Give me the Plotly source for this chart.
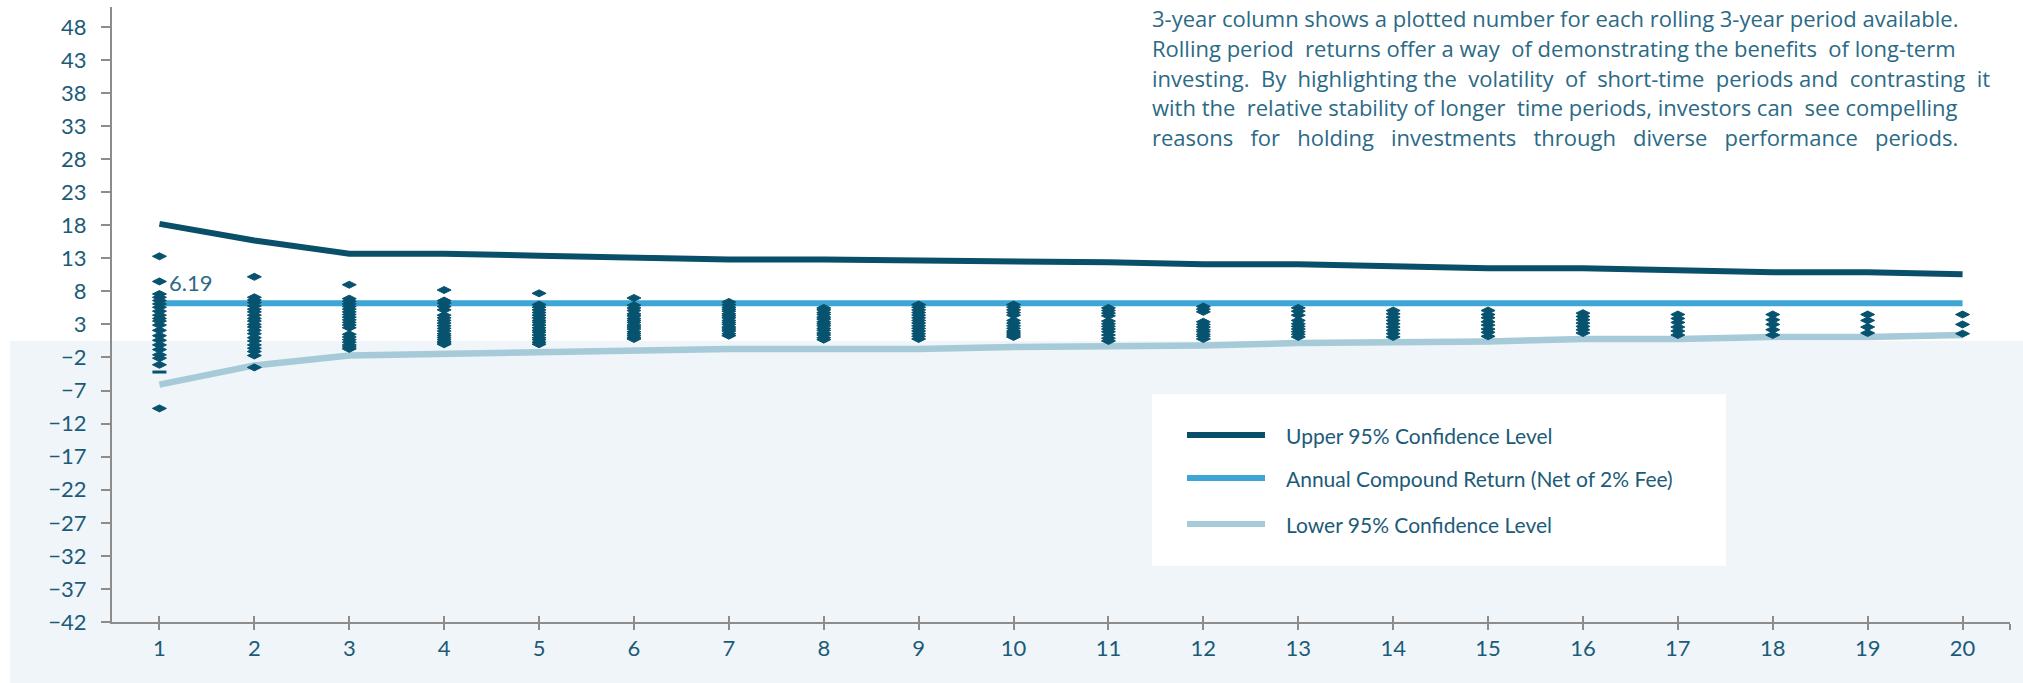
import plotly.graph_objects as go

# Holding period (years) on the x axis
periods = list(range(1, 21))
x_tick_labels = [str(p) for p in periods]

# Confidence bands and the compound return line (% per year)
upper_95 = [18.2, 15.7, 13.7, 13.7, 13.4, 13.1, 12.8, 12.8, 12.7, 12.4,
            12.4, 12.1, 12.1, 11.8, 11.5, 11.5, 11.2, 10.9, 10.9, 10.6]
lower_95 = [-6.1, -3.2, -1.7, -1.4, -1.1, -0.9, -0.7, -0.7, -0.7, -0.4,
            -0.4, -0.2, 0.2, 0.2, 0.4, 0.8, 0.8, 1.1, 1.1, 1.4]
annual_compound_return = 6.19

# Rolling-period annualised returns, one list per holding period
roll_1 = [13.3, 9.5, 7.6, 7.1, 6.6, 6.1, 5.6, 5.0, 4.4, 3.9, 3.5, 2.9, 2.1,
          1.3, 0.6, -0.1, -0.8, -1.6, -2.1, -3.1, -9.7]
roll_2 = [10.2, 7.1, 6.7, 6.3, 5.8, 5.3, 4.9, 4.4, 3.9, 3.5, 3.0, 2.6, 2.1,
          1.6, 1.0, 0.5, -0.1, -0.6, -1.1, -1.7, -3.5]
roll_3 = [9.0, 6.9, 6.5, 6.1, 5.7, 5.3, 4.9, 4.5, 4.1, 3.7, 3.3, 2.9, 2.5,
          1.5, 1.1, 0.7, 0.3, -0.1, -0.4, -0.7]
roll_4 = [8.2, 6.6, 6.2, 5.7, 5.2, 4.4, 4.0, 3.6, 3.2, 2.8, 2.4, 2.0, 1.6,
          1.3, 1.0, 0.7, 0.4, 0.2, 0.0]
roll_5 = [7.7, 6.0, 5.6, 5.2, 4.8, 4.4, 4.0, 3.6, 3.3, 2.9, 2.5, 2.1, 1.8,
          1.4, 1.0, 0.7, 0.3, 0.0]
roll_6 = [7.0, 5.9, 5.5, 5.1, 4.6, 4.3, 3.9, 3.6, 3.3, 2.9, 2.6, 2.3, 1.9,
          1.6, 1.3, 1.0, 0.8]
roll_7 = [6.4, 6.0, 5.6, 5.3, 5.0, 4.6, 4.3, 4.0, 3.6, 3.3, 3.0, 2.6, 2.3,
          2.0, 1.6, 1.3]
roll_8 = [5.5, 5.2, 4.8, 4.5, 4.1, 3.8, 3.4, 3.1, 2.8, 2.4, 2.1, 1.7, 1.4,
          1.0, 0.7]
roll_9 = [6.0, 5.6, 5.2, 4.8, 4.4, 4.0, 3.6, 3.2, 2.8, 2.4, 2.0, 1.6, 1.2, 0.8]
roll_10 = [6.0, 5.6, 5.2, 4.8, 4.4, 3.6, 3.2, 2.8, 2.4, 2.0, 1.7, 1.4, 1.1]
roll_11 = [5.5, 5.1, 4.7, 4.3, 3.5, 3.1, 2.7, 2.3, 1.9, 1.4, 0.9, 0.5]
roll_12 = [5.7, 5.3, 4.9, 3.4, 3.0, 2.6, 2.2, 1.9, 1.5, 1.2, 0.8]
roll_13 = [5.5, 5.0, 4.4, 3.6, 3.1, 2.7, 2.3, 1.9, 1.5, 1.1]
roll_14 = [5.1, 4.6, 4.1, 3.6, 3.1, 2.6, 2.1, 1.6, 1.1]
roll_15 = [5.1, 4.5, 4.0, 3.4, 2.9, 2.3, 1.8, 1.2]
roll_16 = [4.7, 4.2, 3.7, 3.2, 2.7, 2.2, 1.7]
roll_17 = [4.5, 3.9, 3.3, 2.6, 2.0, 1.4]
roll_18 = [4.5, 3.7, 3.0, 2.2, 1.4]
roll_19 = [4.5, 3.6, 2.6, 1.7]
roll_20 = [4.5, 3.0, 1.6]

# One-year result shown with a flat dash marker
dash_x = [1]
dash_y = [-4.2]

y_tick_values = list(range(-42, 49, 5))

legend_labels = ["Upper 95% Confidence Level",
                 "Annual Compound Return (Net of 2% Fee)",
                 "Lower 95% Confidence Level"]

note_lines = [
    "3-year column shows a plotted number for each rolling 3-year period available.",
    "Rolling period returns offer a way of demonstrating the benefits of long-term",
    "investing. By highlighting the volatility of short-time periods and contrasting it",
    "with the relative stability of longer time periods, investors can see compelling",
    "reasons for holding investments through diverse performance periods.",
]
# extra spaces per line so the paragraph reads as justified text
note_padding = [0, 3, 8, 3, 14]

# Colours
NAVY = "#0a4f6a"
DOT = "#07536f"
SKY = "#3ea6d6"
PALE = "#a6cad8"
TEXT = "#1c5b78"
NOTE = "#2b6a86"
AXIS = "#8c8c8c"
PANEL = "#eff5f8"
FONT = "Lato"
NOTE_FONT = "Open Sans"


def justify(line, extra):
    """Spread `extra` non-breaking spaces evenly over the word gaps."""
    words = line.split(" ")
    gaps = len(words) - 1
    out = words[0]
    given = 0
    for g in range(gaps):
        target = round(extra * (g + 1) / gaps)
        out += "\u00a0" * (target - given) + " " + words[g + 1]
        given = target
    return out


rolling = [roll_1, roll_2, roll_3, roll_4, roll_5, roll_6, roll_7, roll_8,
           roll_9, roll_10, roll_11, roll_12, roll_13, roll_14, roll_15,
           roll_16, roll_17, roll_18, roll_19, roll_20]
dot_x, dot_y = [], []
for p, vals in zip(periods, rolling):
    dot_x += [p] * len(vals)
    dot_y += vals

fig = go.Figure()

fig.add_trace(go.Scatter(x=periods, y=upper_95, mode="lines",
                         line=dict(color=NAVY, width=6), showlegend=False,
                         hoverinfo="skip"))
fig.add_trace(go.Scatter(x=periods, y=[annual_compound_return] * len(periods),
                         mode="lines", line=dict(color=SKY, width=6),
                         showlegend=False, hoverinfo="skip"))
fig.add_trace(go.Scatter(x=periods, y=lower_95, mode="lines",
                         line=dict(color=PALE, width=6.5), showlegend=False,
                         hoverinfo="skip"))
fig.add_trace(go.Scatter(x=dot_x, y=dot_y, mode="markers",
                         marker=dict(symbol="diamond-wide", size=10, color=DOT,
                                     line=dict(color=DOT, width=1)),
                         showlegend=False))
fig.add_trace(go.Scatter(x=dash_x, y=dash_y, mode="markers",
                         marker=dict(symbol="line-ew", size=10,
                                     line=dict(color=DOT, width=3)),
                         showlegend=False))
# helper trace so the overlay axis (inner half of the x ticks) is drawn
fig.add_trace(go.Scatter(x=[periods[0]], y=[annual_compound_return],
                         xaxis="x2", mode="markers", opacity=0,
                         showlegend=False, hoverinfo="skip"))

# Figure geometry in pixels, used to place the paper-referenced decorations
W, H = 2023, 683
ML, MR, MT, MB = 112, 13, 7, 61
PW, PH = W - ML - MR, H - MT - MB


def px_x(px):
    return (px - ML) / PW


def px_y(py):
    return (H - MB - py) / PH


shapes = [
    # pale panel behind the lower half of the figure
    dict(type="rect", xref="paper", yref="paper", layer="below",
         x0=px_x(10), x1=px_x(W + 5), y0=px_y(H + 5), y1=px_y(341),
         fillcolor=PANEL, line=dict(width=0)),
    # legend card
    dict(type="rect", xref="paper", yref="paper", layer="below",
         x0=px_x(1152), x1=px_x(1726), y0=px_y(566), y1=px_y(394),
         fillcolor="white", line=dict(width=0)),
]
annotations = []

legend_rows = [435, 478, 524]
for label, color, row in zip(legend_labels, [NAVY, SKY, PALE], legend_rows):
    shapes.append(dict(type="line", xref="paper", yref="paper",
                       x0=px_x(1187), x1=px_x(1265), y0=px_y(row), y1=px_y(row),
                       line=dict(color=color, width=6)))
    annotations.append(dict(xref="paper", yref="paper", x=px_x(1284),
                            y=px_y(row), xanchor="left", yanchor="middle",
                            text=label, showarrow=False,
                            font=dict(family=FONT, size=21, color=TEXT)))

for i, (line, pad) in enumerate(zip(note_lines, note_padding)):
    annotations.append(dict(xref="paper", yref="paper", x=px_x(1150),
                            y=px_y(18 + 29.8 * i), xanchor="left",
                            yanchor="middle", text=justify(line, pad),
                            showarrow=False,
                            font=dict(family=NOTE_FONT, size=22, color=NOTE)))

annotations.append(dict(x=periods[0], y=annual_compound_return,
                        text=f"{annual_compound_return:.2f}", showarrow=False,
                        xanchor="left", yanchor="bottom", xshift=8, yshift=5,
                        font=dict(family=FONT, size=22, color="#2d6a85")))

x_range = [0.5, 20.5]
x_tickvals = periods + [20.5]
x_ticktext = x_tick_labels + [""]

fig.update_layout(
    width=W, height=H,
    margin=dict(l=ML, r=MR, t=MT, b=MB, pad=0),
    paper_bgcolor="white",
    plot_bgcolor="rgba(0,0,0,0)",
    showlegend=False,
    shapes=shapes,
    annotations=annotations,
    xaxis=dict(range=x_range, tickmode="array", tickvals=x_tickvals,
               ticktext=x_ticktext, ticks="outside", ticklen=6, tickwidth=2,
               tickcolor=AXIS, showline=True, linecolor=AXIS, linewidth=2,
               showgrid=False, zeroline=False,
               tickfont=dict(family=FONT, size=22, color=TEXT)),
    xaxis2=dict(range=x_range, overlaying="x", anchor="y", side="bottom",
                tickmode="array", tickvals=x_tickvals, ticks="inside",
                ticklen=6, tickwidth=2, tickcolor=AXIS, showticklabels=False,
                showline=False, showgrid=False, zeroline=False),
    yaxis=dict(range=[-42, 51], tickmode="array", tickvals=y_tick_values,
               ticks="outside", ticklen=9, tickwidth=2, tickcolor=AXIS,
               showline=True, linecolor=AXIS, linewidth=2, showgrid=False,
               zeroline=False, ticklabelstandoff=10,
               tickfont=dict(family=FONT, size=22, color=TEXT)),
)

fig.write_html("out.html")
